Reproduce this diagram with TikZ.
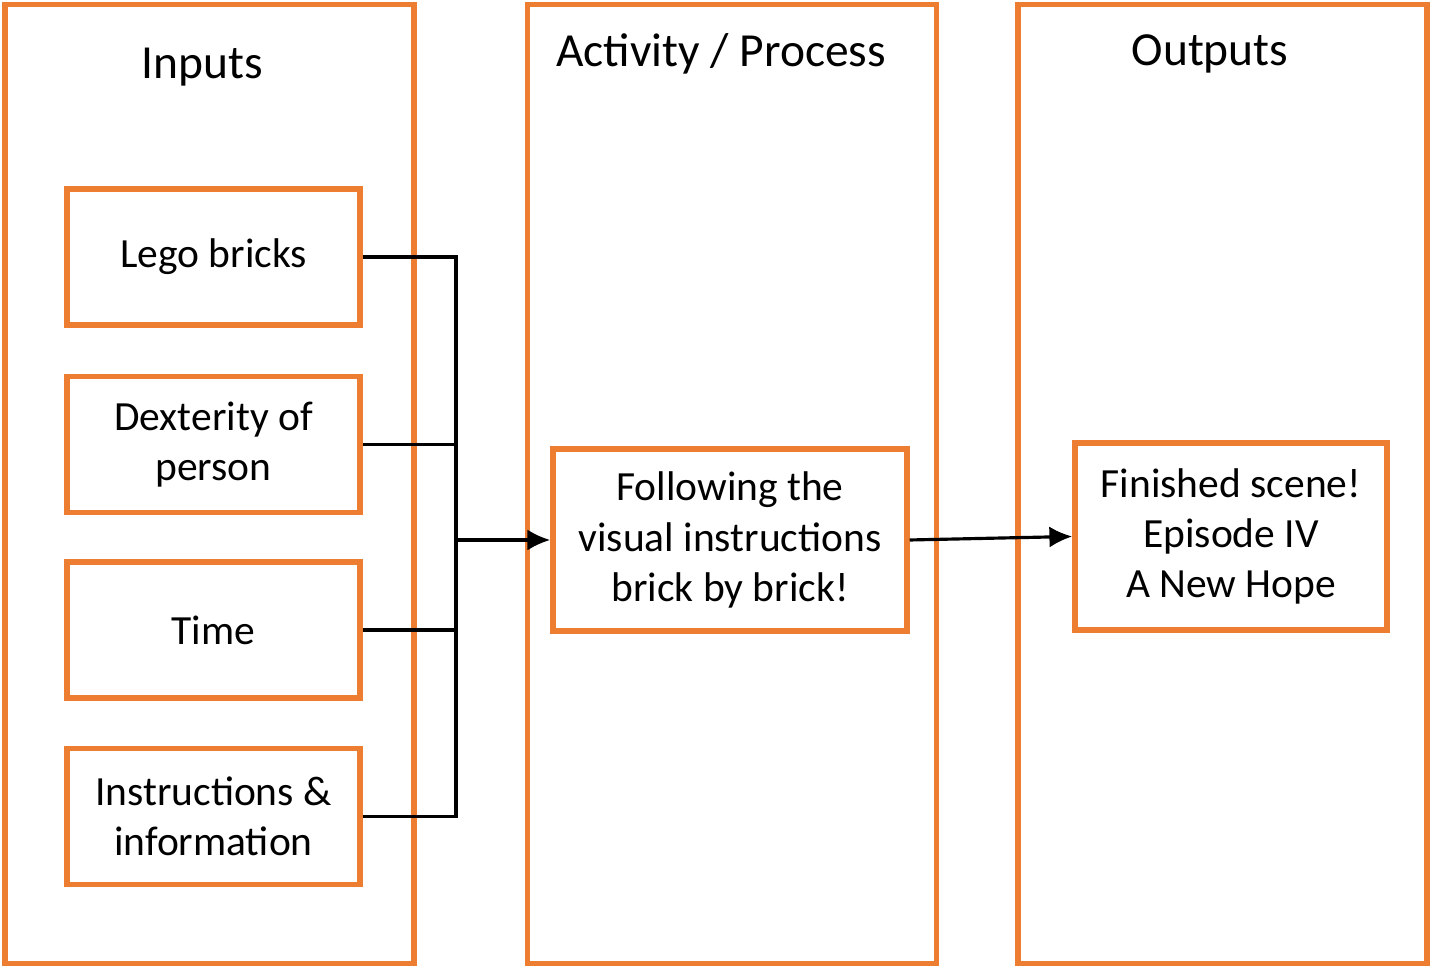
\documentclass[tikz,border=0pt]{standalone}
\usepackage{fontspec}
\setmainfont{Carlito}
\usepackage{tikz}
\usetikzlibrary{positioning, calc, arrows.meta}

\definecolor{boxorange}{HTML}{ED7D31}
\tikzset{
	column/.style={draw=boxorange, line width=1.5pt, minimum width=4.09cm, minimum height=9.58cm},
	inbox/.style={draw=boxorange, line width=1.5pt, minimum width=2.93cm, minimum height=1.36cm, align=center, font=\fontsize{11.8}{14.3}\selectfont},
	title/.style={font=\fontsize{13.5}{16}\selectfont},
	link/.style={line width=0.9pt},
	arr/.style={line width=0.9pt, -{Latex[length=6.5pt,width=6pt]}}
}

\begin{document}
\begin{tikzpicture}[x=0.01cm, y=-0.01cm]
	\useasboundingbox (0,0) rectangle (1432,968);
	
	% the three columns
	\node [column] (inputs) at (209.5, 484) {};
	\node [column] (activity) at (732, 484) {};
	\node [column] (outputs) at (1222.5, 484) {};
	
	\node [title] (tin) at (202, 67) {Inputs};
	\node [title] (tact) at (721, 54) {Activity / Process};
	\node [title] (tout) at (1210, 54) {Outputs};
	
	% inputs
	\foreach \name/\y/\txt in {lego/257/Lego bricks, dext/444.5/Dexterity of\\person, time/630/Time, instr/816.5/Instructions \&\\information}
	\node [inbox] (\name) at (213.5, \y) {\txt};
	
	\coordinate (bus) at (456, 540);
	\foreach \name in {lego, dext, time, instr}
	\draw [link] (\name.east) -| (bus);
	
	% process and result
	\node [inbox, minimum width=3.54cm, minimum height=1.82cm] (follow) at (730, 540) {Following the\\visual instructions\\brick by brick!};
	\node [inbox, minimum width=3.12cm, minimum height=1.87cm] (scene) at (1231, 536.5) {Finished scene!\\Episode IV\\A New Hope};
	
	\draw [arr] (bus) -- (follow.west);
	\draw [arr] (follow.east) -- (scene.west);
\end{tikzpicture}
\end{document}
